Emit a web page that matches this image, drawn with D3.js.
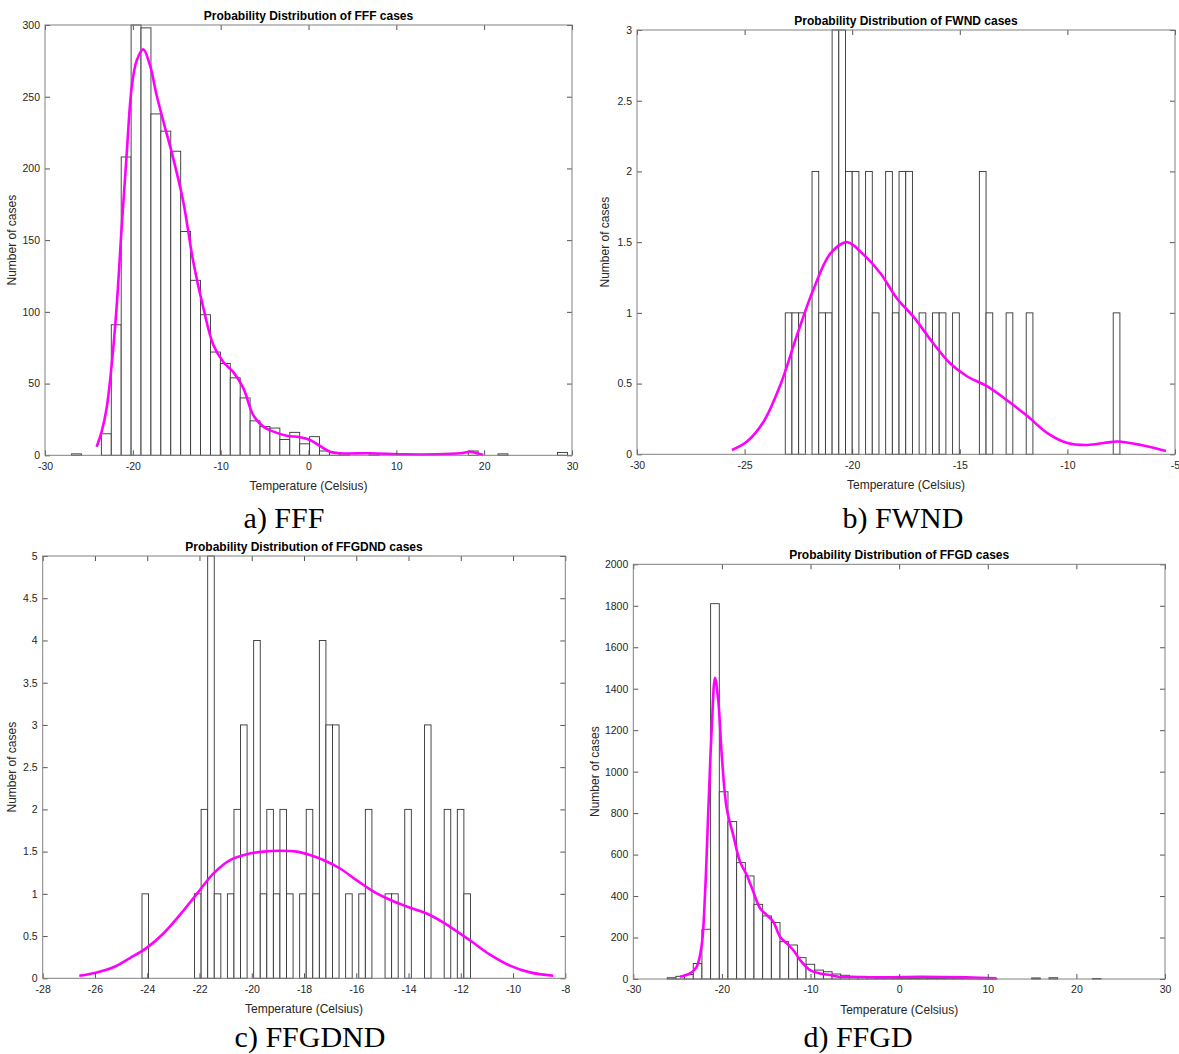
<!DOCTYPE html>
<html><head><meta charset="utf-8">
<script src="https://cdn.jsdelivr.net/npm/d3@7"></script>
<style>body{margin:0;background:#fff}svg{display:block}</style>
</head><body>
<svg id="chart" width="1179" height="1054"></svg>
<script>
// ---------------- DATA ----------------
// FFF histogram (50 bins)
const fffBinStart = -26.97, fffBinWidth = 1.129;
const fffCounts = [1,0,0,15,91,208,300,298,238,226,212,156,122,98,72,64,54,40,24,20,19,11,16,8,13,3,2,1,0,0,1,0,0,0,0,0,0,0,0,0,3,0,0,1,0,0,0,0,0,2];
const fffCurveT = [-24.12,-23.55,-22.98,-22.41,-21.85,-21.28,-20.7,-20.14,-19.57,-18.81,-18.05,-17.29,-16.53,-15.4,-14.26,-13.12,-11.98,-10.84,-9.7,-8.56,-7.43,-6.29,-5.15,-4.0,-2.5,-0.97,0.17,1.3,2.45,3.6,7,10.8,14.6,17.3,18.4,19.2,19.9];
const fffCurveN = [6,16.5,33,63,103,158,210,256,275,283,272,251,233,207,177,135,103,77,65,58,47,28,20,16.5,13.7,12.6,10.7,6.5,2.5,1.4,1.4,0.7,0.7,1.4,2.5,1.4,0.2];

// FWND histogram (50 bins)
const fwndBinStart = -23.11, fwndBinWidth = 0.311;
const fwndCounts = [1,1,1,0,2,1,1,3,3,2,2,0,2,1,0,2,1,2,2,0,1,0,1,1,0,1,0,0,0,2,1,0,0,1,0,0,1,0,0,0,0,0,0,0,0,0,0,0,0,1];
const fwndCurveT = [-25.59,-24.89,-24.12,-23.34,-22.57,-21.79,-21.01,-20.24,-19.46,-18.69,-17.91,-17.14,-16.21,-15.43,-14.65,-13.72,-12.79,-11.86,-10.93,-10.0,-9.06,-8.3,-7.67,-6.58,-5.42];
const fwndCurveN = [0.03,0.09,0.23,0.49,0.84,1.17,1.42,1.5,1.41,1.28,1.1,0.97,0.78,0.64,0.55,0.48,0.38,0.27,0.15,0.08,0.066,0.08,0.09,0.066,0.023];

// FFGDND histogram (50 bins)
const ffgdndBinStart = -24.2, ffgdndBinWidth = 0.2514;
const ffgdndCounts = [1,0,0,0,0,0,0,0,1,2,5,1,0,1,2,3,0,4,1,2,1,2,1,0,1,2,1,4,3,3,0,1,0,1,2,0,0,1,1,0,2,0,0,3,0,0,2,0,2,1];
const ffgdndCurveT = [-26.6,-25.93,-25.3,-24.66,-24.02,-23.38,-22.75,-22.1,-21.47,-20.83,-20.19,-19.56,-18.92,-18.28,-17.77,-17.26,-16.62,-15.98,-15.35,-14.71,-14.07,-13.18,-12.41,-11.65,-10.88,-10.12,-9.35,-8.46];
const ffgdndCurveN = [0.03,0.07,0.13,0.24,0.36,0.53,0.75,1.0,1.24,1.4,1.47,1.5,1.51,1.5,1.46,1.4,1.3,1.16,1.03,0.93,0.85,0.75,0.61,0.45,0.28,0.15,0.07,0.03];

// FFGD histogram (50 bins)
const ffgdBinStart = -26.17, ffgdBinWidth = 0.979;
const ffgdCounts = [6,13,22,75,240,1810,903,759,561,497,360,304,272,180,164,103,71,43,35,24,18,12,9,6,4,5,3,4,3,5,4,3,4,3,2,3,2,1,0,0,0,0,5,0,6,0,0,0,0,2];
const ffgdCurveT = [-24.73,-23.6,-22.85,-22.28,-21.91,-21.54,-21.15,-20.78,-20.4,-20.02,-19.46,-18.72,-17.96,-17.2,-16.46,-15.7,-14.95,-14.2,-13.45,-12.69,-11.95,-11.19,-10.06,-8.93,-7.8,-6.67,-5.5,-2.12,2.4,7.6,11];
const ffgdCurveN = [11,27,59,164,405,807,1209,1453,1337,1080,823,694,566,502,421,341,309,276,204,172,140,92,43,27,19,10,11,8,11,8,3];

// Tick labels
const xTicksA = [-30,-20,-10,0,10,20,30];
const yTicksA = [0,50,100,150,200,250,300];
const xTicksB = [-30,-25,-20,-15,-10,-5];
const yTicksB = [0,0.5,1,1.5,2,2.5,3];
const xTicksC = [-28,-26,-24,-22,-20,-18,-16,-14,-12,-10,-8];
const yTicksC = [0,0.5,1,1.5,2,2.5,3,3.5,4,4.5,5];
const xTicksD = [-30,-20,-10,0,10,20,30];
const yTicksD = [0,200,400,600,800,1000,1200,1400,1600,1800,2000];

const titles = ["Probability Distribution of FFF cases","Probability Distribution of FWND cases","Probability Distribution of FFGDND cases","Probability Distribution of FFGD cases"];
const captions = ["a) FFF","b) FWND","c) FFGDND","d) FFGD"];

// ---------------- DRAW ----------------
const svg = d3.select("#chart");
const SANS = "'Liberation Sans', Arial, Helvetica, sans-serif";
const panels = [
  {box:[45,572,25,455.3], xd:[-30,30], yd:[0,300], xt:xTicksA, yt:yTicksA, start:fffBinStart, w:fffBinWidth, counts:fffCounts, ct:fffCurveT, cn:fffCurveN, title:titles[0], cap:captions[0], capX:284, capY:528, ylabX:16},
  {box:[637,1175,30,454.3], xd:[-30,-5], yd:[0,3], xt:xTicksB, yt:yTicksB, start:fwndBinStart, w:fwndBinWidth, counts:fwndCounts, ct:fwndCurveT, cn:fwndCurveN, title:titles[1], cap:captions[1], capX:903, capY:528, ylabX:609},
  {box:[42.7,565.3,556,978.3], xd:[-28,-8], yd:[0,5], xt:xTicksC, yt:yTicksC, start:ffgdndBinStart, w:ffgdndBinWidth, counts:ffgdndCounts, ct:ffgdndCurveT, cn:ffgdndCurveN, title:titles[2], cap:captions[2], capX:310, capY:1047, ylabX:16},
  {box:[633.3,1165,564.3,979], xd:[-30,30], yd:[0,2000], xt:xTicksD, yt:yTicksD, start:ffgdBinStart, w:ffgdBinWidth, counts:ffgdCounts, ct:ffgdCurveT, cn:ffgdCurveN, title:titles[3], cap:captions[3], capX:858, capY:1047, ylabX:599}
];

panels.forEach(p => {
  const [L,R,T,B] = p.box;
  const x = d3.scaleLinear().domain(p.xd).range([L,R]);
  const y = d3.scaleLinear().domain(p.yd).range([B,T]);
  const g = svg.append("g");

  // bars
  const bins = p.counts.map((c,i)=>({c, x0:p.start+i*p.w, x1:p.start+(i+1)*p.w})).filter(d=>d.c>0);
  g.selectAll("rect.bar").data(bins).enter().append("rect")
    .attr("x", d=>x(d.x0)).attr("width", d=>x(d.x1)-x(d.x0))
    .attr("y", d=>y(d.c)).attr("height", d=>y(0)-y(d.c))
    .attr("fill","#fff").attr("stroke","#333").attr("stroke-width",0.9);

  // curve
  const pts = p.ct.map((t,i)=>[t,p.cn[i]]);
  g.append("path").datum(pts)
    .attr("d", d3.line().x(d=>x(d[0])).y(d=>y(d[1])).curve(d3.curveCatmullRom.alpha(0.5)))
    .attr("fill","none").attr("stroke","#ff00ff").attr("stroke-width",2.6);

  // axes
  const fmt = d=>String(d);
  const axB = g.append("g").attr("transform",`translate(0,${B})`)
    .call(d3.axisBottom(x).tickValues(p.xt).tickFormat(fmt).tickSizeInner(-5).tickSizeOuter(0).tickPadding(7));
  const axT = g.append("g").attr("transform",`translate(0,${T})`)
    .call(d3.axisTop(x).tickValues(p.xt).tickFormat("").tickSizeInner(-5).tickSizeOuter(0));
  const axL = g.append("g").attr("transform",`translate(${L},0)`)
    .call(d3.axisLeft(y).tickValues(p.yt).tickFormat(fmt).tickSizeInner(-5).tickSizeOuter(0).tickPadding(5));
  const axR = g.append("g").attr("transform",`translate(${R},0)`)
    .call(d3.axisRight(y).tickValues(p.yt).tickFormat("").tickSizeInner(-5).tickSizeOuter(0));
  [axB,axT,axL,axR].forEach(a=>{
    a.select(".domain").remove();
    a.selectAll("line").attr("stroke","#555").attr("stroke-width",1);
    a.selectAll("text").attr("fill","#262626").style("font-family",SANS).style("font-size","10.5px");
  });
  g.append("rect").attr("x",L).attr("y",T).attr("width",R-L).attr("height",B-T)
    .attr("fill","none").attr("stroke","#808080").attr("stroke-width",1);

  // title
  g.append("text").attr("x",(L+R)/2).attr("y",T-5).attr("text-anchor","middle")
    .style("font-family",SANS).style("font-size","12px").style("font-weight","bold").attr("fill","#000").text(p.title);
  // x label
  g.append("text").attr("x",(L+R)/2).attr("y",B+35).attr("text-anchor","middle")
    .style("font-family",SANS).style("font-size","12px").attr("fill","#262626").text("Temperature (Celsius)");
  // y label
  g.append("text").attr("transform",`translate(${p.ylabX},${(T+B)/2}) rotate(-90)`).attr("text-anchor","middle")
    .style("font-family",SANS).style("font-size","12px").attr("fill","#262626").text("Number of cases");
  // caption
  svg.append("text").attr("x",p.capX).attr("y",p.capY).attr("text-anchor","middle")
    .style("font-family","'Liberation Serif','Times New Roman',serif").style("font-size","30px").attr("fill","#000").text(p.cap);
});
</script>
</body></html>
